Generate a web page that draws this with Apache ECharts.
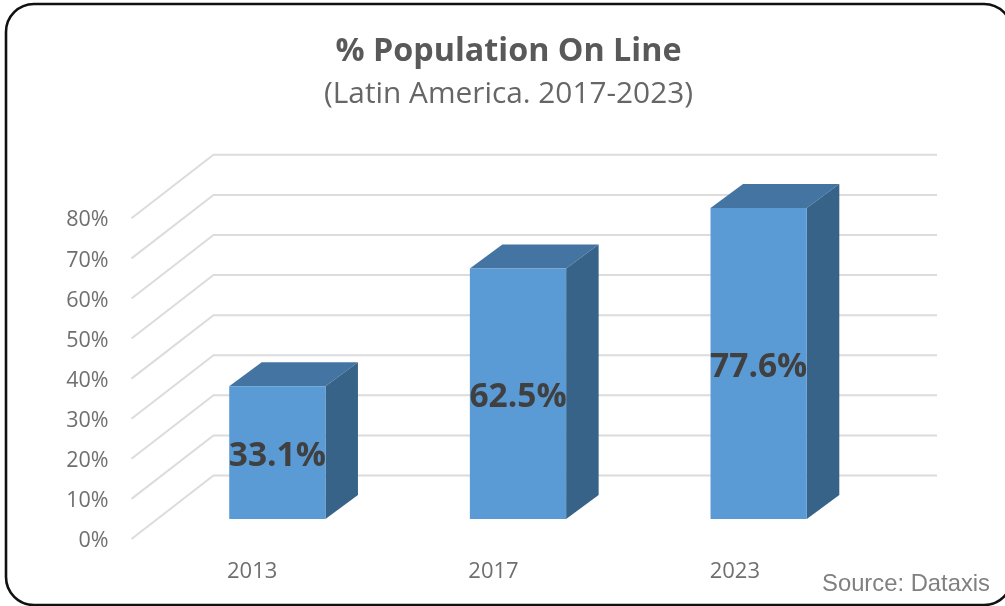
<!DOCTYPE html>
<html><head><meta charset="utf-8">
<style>html,body{margin:0;padding:0;background:#fff}#c{width:1005px;height:606px}</style>
<script src="https://cdn.jsdelivr.net/npm/echarts@6/dist/echarts.min.js"></script>
</head><body><div id="c"></div>
<script>
const categories = ['2013', '2017', '2023'];
const values = [33.1, 62.5, 77.6];
const gridTicks = [0, 10, 20, 30, 40, 50, 60, 70, 80];

const chart = echarts.init(document.getElementById('c'), null, {renderer: 'canvas'});
const font = '"Open Sans", sans-serif';
const wall = {dx: 56.5, dy: -43.5};
const floorFront = {dx: -25.5, dy: 20};
const depth = {dx: 32.5, dy: -24};
const LW = 0.4;

function renderGridline(params, api) {
  const p = api.coord([0, api.value(1)]);
  const cs = params.coordSys;
  return {
    type: 'polyline', silent: true,
    shape: {points: [
      [cs.x + floorFront.dx, p[1] + floorFront.dy],
      [cs.x + wall.dx, p[1] + wall.dy],
      [cs.x + cs.width + wall.dx + 1.5, p[1] + wall.dy]
    ]},
    style: {fill: null, stroke: '#dcdcdc', lineWidth: 2}
  };
}
function renderBar(params, api) {
  const top = api.coord([api.value(0), api.value(1)]);
  const base = api.coord([api.value(0), 0]);
  const w = api.size([1, 0])[0] * LW;
  const l = top[0] - w / 2, r = top[0] + w / 2, t = top[1], b = base[1];
  const {dx, dy} = depth;
  return {
    type: 'group',
    children: [
      {type: 'polygon', shape: {points: [[l, t], [r, t], [r + dx, t + dy], [l + dx, t + dy]]}, style: {fill: '#4475A2'}},
      {type: 'polygon', shape: {points: [[r, t], [r + dx, t + dy], [r + dx, b + dy], [r, b]]}, style: {fill: '#376388'}},
      {type: 'rect', shape: {x: l, y: t, width: w, height: b - t}, style: {fill: '#5B9BD5'}},
      {type: 'text', style: {
        x: top[0], y: (t + b) / 2 + 4, text: api.value(1).toFixed(1) + '%',
        align: 'center', verticalAlign: 'middle',
        font: 'bold 33.5px ' + font, fill: '#404040'
      }}
    ]
  };
}

chart.setOption({
  animation: false,
  backgroundColor: '#fff',
  title: {
    text: '% Population On Line',
    subtext: '(Latin America. 2017-2023)',
    left: 503.5, top: 26, textAlign: 'center', itemGap: 5,
    textStyle: {fontFamily: font, fontSize: 32.3, fontWeight: 'bold', color: '#595959', lineHeight: 42},
    subtextStyle: {fontFamily: font, fontSize: 29.8, color: '#666666', lineHeight: 34}
  },
  grid: [
    {left: 157, width: 722, top: 198.3, height: 320.7},
    {left: 131.5, width: 724, top: 220.3, height: 320.7}
  ],
  xAxis: [
    {type: 'category', gridIndex: 0, data: categories, axisLine: {show: false}, axisTick: {show: false}, axisLabel: {show: false}},
    {type: 'category', gridIndex: 1, data: categories, axisLine: {show: false}, axisTick: {show: false},
     axisLabel: {fontFamily: font, fontSize: 22, color: '#6f6f6f', margin: 20}}
  ],
  yAxis: [
    {type: 'value', gridIndex: 0, min: 0, max: 80, interval: 10, splitLine: {show: false}, axisLine: {show: false}, axisTick: {show: false}, axisLabel: {show: false}},
    {type: 'value', gridIndex: 1, min: 0, max: 80, interval: 10, splitLine: {show: false}, axisLine: {show: false}, axisTick: {show: false},
     axisLabel: {fontFamily: font, fontSize: 21.5, color: '#6f6f6f', margin: 23, formatter: '{value}%'}}
  ],
  series: [
    {type: 'custom', xAxisIndex: 0, yAxisIndex: 0, z: 1, silent: true, renderItem: renderGridline,
     encode: {x: 0, y: 1}, data: gridTicks.map(v => [0, v])},
    {type: 'custom', xAxisIndex: 0, yAxisIndex: 0, z: 3, silent: true, renderItem: renderBar,
     encode: {x: 0, y: 1}, data: values.map((v, i) => [i, v])}
  ],
  graphic: [
    {type: 'rect', z: 100, silent: true, shape: {x: 6, y: 4, width: 1006, height: 601, r: 28},
     style: {fill: null, stroke: '#111111', lineWidth: 2.6}},
    {type: 'text', z: 101, silent: true, style: {x: 990, y: 584, text: 'Source: Dataxis', align: 'right', verticalAlign: 'middle',
      font: '23.8px "Liberation Sans", Arial, sans-serif', fill: '#808080'}}
  ]
});
</script></body></html>
